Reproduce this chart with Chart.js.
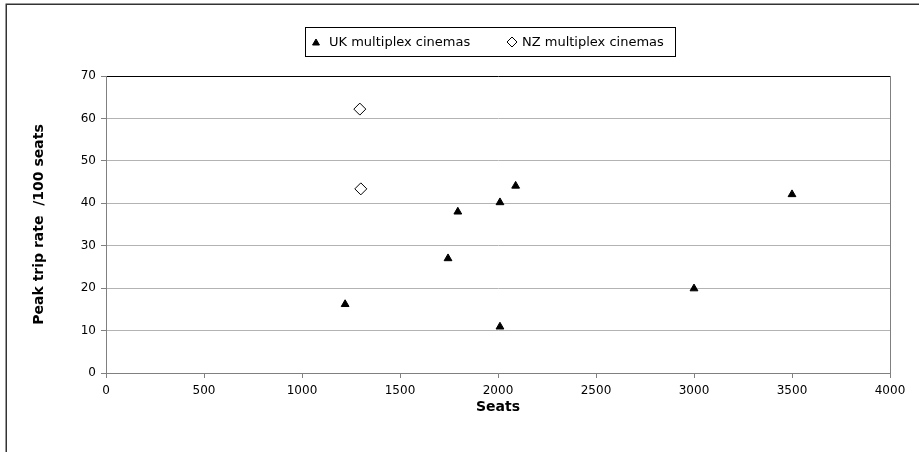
<!DOCTYPE html>
<html>
<head>
<meta charset="utf-8">
<title>Peak trip rate vs seats</title>
<script src="https://cdn.jsdelivr.net/npm/chart.js@4.4.1/dist/chart.umd.min.js"></script>
<style>
  html, body { margin: 0; padding: 0; background: #fff; }
  #wrap { width: 919px; height: 452px; }
</style>
</head>
<body>
<div id="wrap"><canvas id="chart" width="919" height="452"></canvas></div>
<script>
// ---- data: seats vs peak trip rate per 100 seats ----
const ukSeats = [1220, 1745, 1795, 2010, 2010, 2090, 3000, 3500];
const ukRate  = [16.2, 27.0, 38.0, 40.2, 10.9, 44.1, 19.9, 42.1];
const nzSeats = [1295, 1300];
const nzRate  = [62.2, 43.4];
const seriesNames = ['UK multiplex cinemas', 'NZ multiplex cinemas'];
const xRange = [0, 4000, 500];
const yRange = [0, 70, 10];

const FONT = "'DejaVu Sans', Verdana, sans-serif";

// white background, outer frame and the right edge of the plot box
const framePlugin = {
  id: 'frame',
  beforeDraw(chart) {
    const ctx = chart.ctx;
    ctx.save();
    ctx.fillStyle = '#fff';
    ctx.fillRect(0, 0, chart.width, chart.height);
    ctx.strokeStyle = '#333';
    ctx.lineWidth = 1.5;
    ctx.strokeRect(6.25, 4.25, chart.width + 10, chart.height + 10);
    ctx.restore();
  },
  beforeDatasetsDraw(chart) {
    const { ctx, chartArea: a } = chart;
    const x = Math.round(a.right) + 0.5;
    ctx.save();
    ctx.strokeStyle = '#808080';
    ctx.lineWidth = 1;
    ctx.beginPath();
    ctx.moveTo(x, a.top);
    ctx.lineTo(x, a.bottom);
    ctx.stroke();
    ctx.restore();
  }
};

// boxed legend above the plot
const boxLegend = {
  id: 'boxLegend',
  afterDraw(chart) {
    const ctx = chart.ctx;
    const box = { x: 305.5, y: 27.5, w: 370, h: 29 };
    const cy = box.y + box.h / 2;
    const items = [
      { mx: 316, tx: 329 },
      { mx: 512, tx: 522 }
    ];
    ctx.save();
    ctx.strokeStyle = '#000';
    ctx.lineWidth = 1;
    ctx.strokeRect(box.x, box.y, box.w, box.h);
    ctx.font = '13px ' + FONT;
    ctx.textBaseline = 'middle';
    chart.data.datasets.forEach((ds, i) => {
      const it = items[i];
      ctx.fillStyle = ds.backgroundColor;
      ctx.strokeStyle = ds.borderColor;
      ctx.lineWidth = ds.borderWidth;
      Chart.helpers.drawPoint(ctx, {
        pointStyle: ds.pointStyle,
        radius: ds.pointStyle === 'triangle' ? 4 : 5,
        rotation: 0,
        borderWidth: ds.borderWidth
      }, it.mx, cy + (ds.pointStyle === 'triangle' ? 1 : 0));
      ctx.fillStyle = '#000';
      ctx.fillText(ds.label, it.tx, cy + 1);
    });
    ctx.restore();
  }
};

new Chart(document.getElementById('chart'), {
  type: 'scatter',
  data: {
    datasets: [
      {
        label: seriesNames[0],
        data: ukSeats.map((x, i) => ({ x, y: ukRate[i] })),
        pointStyle: 'triangle',
        pointRadius: 4.5,
        pointHoverRadius: 4.5,
        backgroundColor: '#000',
        borderColor: '#000',
        borderWidth: 1
      },
      {
        label: seriesNames[1],
        data: nzSeats.map((x, i) => ({ x, y: nzRate[i] })),
        pointStyle: 'rectRot',
        pointRadius: 6,
        pointHoverRadius: 6,
        backgroundColor: '#fff',
        borderColor: '#000',
        borderWidth: 1
      }
    ]
  },
  options: {
    responsive: false,
    animation: false,
    devicePixelRatio: 1,
    layout: { padding: { top: 76, right: 29, left: 0, bottom: 0 } },
    plugins: {
      legend: { display: false },
      tooltip: { enabled: false }
    },
    scales: {
      x: {
        type: 'linear',
        min: xRange[0],
        max: xRange[1],
        ticks: {
          stepSize: xRange[2],
          color: '#000',
          padding: 6,
          font: { family: FONT, size: 12 },
          callback: v => String(v)
        },
        grid: {
          drawOnChartArea: false,
          tickLength: 5,
          tickColor: '#808080'
        },
        border: { color: '#808080' },
        title: {
          display: true,
          text: 'Seats',
          color: '#000',
          font: { family: FONT, size: 14, weight: 'bold' },
          padding: { top: 0, bottom: 36 }
        },
        afterFit(s) { s.height = 79; }
      },
      y: {
        min: yRange[0],
        max: yRange[1],
        ticks: {
          stepSize: yRange[2],
          color: '#000',
          padding: 5,
          font: { family: FONT, size: 12 }
        },
        grid: {
          color: c => (c.tick && c.tick.value === yRange[1]) ? '#000' : '#b3b3b3',
          tickLength: 5,
          tickColor: '#808080'
        },
        border: { color: '#808080' },
        title: {
          display: true,
          text: 'Peak trip rate  /100 seats',
          color: '#000',
          font: { family: FONT, size: 14, weight: 'bold' },
          padding: { top: 31, bottom: 0 }
        },
        afterFit(s) { s.width = 106; }
      }
    }
  },
  plugins: [framePlugin, boxLegend]
});
</script>
</body>
</html>
